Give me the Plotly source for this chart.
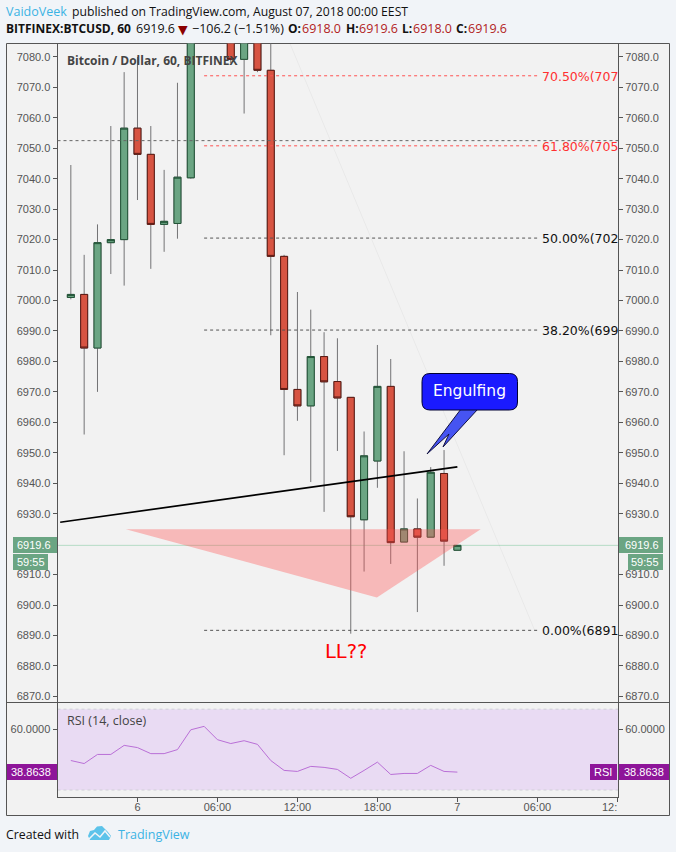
import plotly.graph_objects as go
import pandas as pd

W, H = 676, 852
hours = list(range(-5, 25))
opens = [7001.0,7002.0,6984.4,7019.0,7020.0,7056.6,7048.0,7025.0,7025.3,7040.3,7098.0,7105.0,7088.0,7079.2,7086.0,7075.6,7014.5,6970.8,6965.4,6981.6,6973.4,6968.2,6928.0,6947.3,6971.8,6920.7,6925.0,6922.3,6943.2,6918.0]
closes = [7002.0,6984.4,7019.0,7020.0,7056.6,7048.0,7025.0,7026.0,7040.5,7098.0,7105.0,7088.0,7079.2,7086.0,7075.6,7014.5,6970.8,6965.4,6981.6,6973.3,6968.0,6929.0,6949.0,6971.8,6920.5,6925.0,6922.3,6943.6,6921.0,6919.6]
highs = [7044.5,7015.0,7025.0,7057.3,7075.0,7080.0,7057.3,7042.9,7071.5,7105.0,7115.0,7110.0,7095.0,7092.0,7090.0,7088.0,7015.0,7002.8,6997.0,6989.6,6987.6,6968.2,6957.0,6985.4,6980.8,6950.5,6935.0,6945.3,6950.9,6919.6]
lows = [7000.4,6956.0,6970.0,7008.7,7004.9,7033.0,7010.4,7016.0,7020.3,7040.0,7090.0,7085.0,7078.0,7061.4,7075.0,6988.6,6949.2,6960.5,6940.4,6930.6,6950.6,6890.6,6911.0,6938.5,6913.5,6920.7,6897.7,6922.3,6912.9,6918.0]
rsi = [44.6,43.1,47.6,47.6,52.1,51.0,48.0,48.0,50.0,59.8,61.5,54.9,53.0,54.4,52.6,44.6,39.7,39.2,41.7,41.2,40.2,35.8,39.7,43.8,37.7,38.2,38.2,42.2,39.2,38.86]

main_ticks = list(range(6870, 7090, 10))
hidden_tick = 6920  # covered by the price tag in the reference
time_tick_hours = [0, 6, 12, 18, 24, 30, 36]
time_tick_text = ["6", "06:00", "12:00", "18:00", "7", "06:00", ""]

fib_levels = [("70.50%(707", 7073.8, "#ff5252"), ("61.80%(705", 7050.8, "#ff5252"),
              ("50.00%(702", 7020.5, "#555555"), ("38.20%(699", 6990.3, "#555555"),
              ("0.00%(6891", 6891.7, "#555555")]
fib_start_hour, fib_end_hour = 5, 30
fib_side_level = 7052.5
trend_hours, trend_vals = [-5.8, 24], [6927.2, 6945.4]
tri_hours, tri_vals = [-0.87, 25.75, 17.96, -0.87], [6924.9, 6924.9, 6902.5, 6924.9]
faint_hours, faint_vals = [11.44, 29.8], [7084.4, 6891.7]
last_price = 6919.6

BASE = pd.Timestamp("2018-08-06")
def T(h):
    return BASE + pd.Timedelta(hours=float(h))
def X(p): return p / W
def Y(p): return 1 - p / H

UP, DOWN, UPL, DOWNL, WICK = "#6ba583", "#d75442", "#225437", "#5b1a13", "#737375"
AX = "#555555"
times = [T(h) for h in hours]
hi_body = [max(a, b) for a, b in zip(opens, closes)]
lo_body = [min(a, b) for a, b in zip(opens, closes)]

fig = go.Figure()
fig.add_trace(go.Candlestick(x=times, open=opens, close=closes, high=highs, low=lows, xaxis="x", yaxis="y",
    increasing=dict(line=dict(color=WICK, width=1), fillcolor=WICK),
    decreasing=dict(line=dict(color=WICK, width=1), fillcolor=WICK), showlegend=False, hoverinfo="skip"))
fig.add_trace(go.Candlestick(x=times, open=opens, close=closes, high=hi_body, low=lo_body, xaxis="x", yaxis="y2",
    increasing=dict(line=dict(color=UPL, width=1), fillcolor=UP),
    decreasing=dict(line=dict(color=DOWNL, width=1), fillcolor=DOWN), showlegend=False, hoverinfo="skip"))
fig.add_trace(go.Scatter(x=[T(h) for h in tri_hours], y=tri_vals, xaxis="x", yaxis="y2", mode="lines",
    fill="toself", fillcolor="rgba(255,82,82,0.36)", line=dict(width=0), showlegend=False, hoverinfo="skip"))
fig.add_trace(go.Scatter(x=[T(h) for h in trend_hours], y=trend_vals, xaxis="x", yaxis="y2", mode="lines",
    line=dict(color="#000000", width=1.7), showlegend=False, hoverinfo="skip"))
fig.add_trace(go.Scatter(x=[T(h) for h in faint_hours], y=faint_vals, xaxis="x", yaxis="y2", mode="lines",
    line=dict(color="rgba(0,0,0,0.04)", width=1), showlegend=False, hoverinfo="skip"))
fig.add_trace(go.Scatter(x=times, y=rsi, xaxis="x2", yaxis="y3", mode="lines",
    line=dict(color="#b96fd6", width=1), showlegend=False, hoverinfo="skip"))
fig.add_trace(go.Scatter(x=times, y=rsi, xaxis="x2", yaxis="y4", mode="lines", opacity=0,
    line=dict(width=0), showlegend=False, hoverinfo="skip"))

shapes = []
shapes.append(dict(type="rect", xref="paper", yref="paper", x0=X(6.5), x1=X(669.5), y0=Y(43.5), y1=Y(815.5),
                   fillcolor="#f2f2f2", line=dict(color=AX, width=1), layer="below"))
shapes.append(dict(type="line", xref="paper", yref="paper", x0=X(6.5), x1=X(669.5), y0=Y(702.5), y1=Y(702.5),
                   line=dict(color=AX, width=1), layer="above"))
shapes.append(dict(type="line", xref="paper", yref="y", x0=X(57.5), x1=X(618), y0=last_price, y1=last_price,
                   line=dict(color="#b5dcc5", width=1), layer="below"))
shapes.append(dict(type="line", xref="paper", yref="y", x0=X(57.5), x1=X(618), y0=fib_side_level, y1=fib_side_level,
                   line=dict(color="#666666", width=1, dash="3px,3px"), layer="above"))
for name, lvl, col in fib_levels:
    shapes.append(dict(type="line", xref="x", yref="y", x0=T(fib_start_hour), x1=T(fib_end_hour), y0=lvl, y1=lvl,
                       line=dict(color=col, width=1, dash="3px,3px"), layer="above"))
# RSI band
shapes.append(dict(type="rect", xref="paper", yref="y3", x0=X(57.5), x1=X(618), y0=30, y1=70,
                   fillcolor="#e9dbf3", line=dict(width=0), layer="below"))
for v in (30, 70):
    shapes.append(dict(type="line", xref="paper", yref="y3", x0=X(57.5), x1=X(618), y0=v, y1=v,
                       line=dict(color="#cfcfd6", width=1, dash="3px,3px"), layer="below"))
def prect(x0, x1, y0, y1, col):
    shapes.append(dict(type="rect", xref="paper", yref="paper", x0=X(x0), x1=X(x1), y0=Y(y0), y1=Y(y1),
                       fillcolor=col, line=dict(width=0), layer="above"))
prect(13, 57, 537, 553, UP); prect(13, 48, 554, 570, UP)
prect(619, 663, 537, 553, UP); prect(628, 663, 554, 570, UP)
prect(7, 57, 764, 780, "#8e1599"); prect(619, 669, 764, 780, "#8e1599"); prect(590, 617, 764, 780, "#8e1599")

def P(points):
    return "M" + " L".join(f"{X(a):.5f},{Y(b):.5f}" for a, b in points) + " Z"
# callout tail and body
shapes.append(dict(type="path", xref="paper", yref="paper", layer="above",
    path=P([(461, 409), (427, 454), (449, 434), (443, 447), (478, 409)]),
    fillcolor="#4654f2", line=dict(color="#101040", width=1)))
l, r, t, b, q = 422, 517.5, 373.5, 410, 8
body = (f"M{X(l+q)},{Y(t)} L{X(r-q)},{Y(t)} Q{X(r)},{Y(t)} {X(r)},{Y(t+q)} L{X(r)},{Y(b-q)} Q{X(r)},{Y(b)} {X(r-q)},{Y(b)} "
        f"L{X(l+q)},{Y(b)} Q{X(l)},{Y(b)} {X(l)},{Y(b-q)} L{X(l)},{Y(t+q)} Q{X(l)},{Y(t)} {X(l+q)},{Y(t)} Z")
shapes.append(dict(type="path", xref="paper", yref="paper", layer="above", path=body,
                   fillcolor="#1a1aff", line=dict(color="#000033", width=1)))
# logo
shapes.append(dict(type="path", xref="paper", yref="paper", layer="above", fillcolor="#5cc3ea", line=dict(width=0),
    path=P([(88, 836), (90, 831), (94, 830), (97, 826.5), (102, 826), (105, 829), (108, 832), (111, 836), (109, 840), (90, 840)])))
shapes.append(dict(type="path", xref="paper", yref="paper", layer="above", line=dict(color="#f1f4f8", width=1.5),
    path=f"M{X(89)},{Y(839)} L{X(95)},{Y(833)} L{X(100)},{Y(837)} L{X(105)},{Y(831)} L{X(110)},{Y(837)}"))
fig.update_layout(shapes=shapes)

SANS = "Open Sans"
ARIAL = "Liberation Sans"
DJ = "DejaVu Sans"
anns = []
def txt(x, y, s, size=13, color="#111111", family=SANS, anchor="left", bold=False):
    if bold: s = f"<b>{s}</b>"
    anns.append(dict(xref="paper", yref="paper", x=X(x), y=Y(y), text=s, showarrow=False, xanchor=anchor, yanchor="middle",
                     font=dict(size=size, color=color, family=family), borderpad=0, borderwidth=0))
txt(6, 11, "VaidoVeek", 12.5, "#3bb3e4")
txt(72, 11, "published on TradingView.com, August 07, 2018 00:00 EEST", 12.2)
txt(6, 29, "BITFINEX:BTCUSD, 60", 12, bold=True)
txt(136, 29, "6919.6", 12.5)
txt(178, 29.5, "▼", 12.5, "#8b0000", DJ)
txt(192, 29, "−106.2 (−1.51%)", 12.5)
RED = "#b22222"
for xl, lab, xv, val in [(288, "O:", 302, "6918.0"), (345.5, "H:", 359, "6919.6"), (402, "L:", 413, "6918.0"), (456, "C:", 468, "6919.6")]:
    txt(xl, 29, lab, 12, bold=True)
    txt(xv, 29, val, 12.5, RED)
txt(67, 60.5, "Bitcoin / Dollar, 60, BITFINEX", 12, "#444444", bold=True)
txt(67, 720, "RSI (14, close)", 12.5, "#444444")
for name, lvl, col in fib_levels:
    anns.append(dict(xref="paper", yref="y", x=X(540), y=lvl, text=name, showarrow=False, xanchor="left", yanchor="middle",
                     yshift=-0.5, font=dict(size=12.5, family=DJ, color="#ff3030" if col != "#555555" else "#111111")))
txt(345.5, 651, "LL??", 19.5, "#ff0000", DJ, anchor="center")
txt(469.5, 391, "Engulfing", 15.5, "#ffffff", DJ, anchor="center")
for xc, s in [(33.5, "6919.6"), (30.5, "59:55"), (641.5, "6919.6"), (644.5, "59:55")]:
    txt(xc, 545 if s == "6919.6" else 562, s, 11, "#ffffff", ARIAL, anchor="center")
for xc in (31, 644):
    txt(xc, 772, "38.8638", 11, "#ffffff", ARIAL, anchor="center")
txt(603, 772, "RSI", 11, "#ffffff", ARIAL, anchor="center")
txt(617, 807, "12:", 11, AX, ARIAL, anchor="right")
txt(6, 834, "Created with", 12.3)
txt(118, 834, "TradingView", 12.5, "#3bb3e4")
fig.update_layout(annotations=anns)

xrange = [T(-6), T(36.05)]
yrange = [6868.0, 7084.4]
rsi_range = [26.8, 73.3]
dom_main = [Y(702.5), Y(43.5)]
dom_rsi = [Y(796.5), Y(702.5)]
dom_x = [X(57.5), X(618)]
tick_font = dict(size=11, color=AX, family=ARIAL)
yc = dict(range=yrange, tickvals=main_ticks, ticktext=["" if v == hidden_tick else f"{v:.1f}" for v in main_ticks],
          ticks="outside", ticklen=4, tickcolor=AX, tickfont=tick_font, showgrid=False, zeroline=False, showline=True,
          linecolor=AX, linewidth=1, fixedrange=True)
rc = dict(range=rsi_range, tickvals=[60, 38.86], ticktext=["60.0000", ""], ticks="outside", ticklen=4,
          tickcolor=AX, tickfont=tick_font, showgrid=False, zeroline=False, showline=True, linecolor=AX, linewidth=1)
fig.update_layout(
    width=W, height=H, autosize=False, margin=dict(l=0, r=0, t=0, b=0),
    paper_bgcolor="#f1f4f8", plot_bgcolor="rgba(0,0,0,0)", showlegend=False, boxgap=0.25, hovermode=False,
    xaxis=dict(domain=dom_x, range=xrange, type="date", anchor="y", showticklabels=False, ticks="", showgrid=False,
               zeroline=False, showline=False, rangeslider=dict(visible=False)),
    xaxis2=dict(domain=dom_x, range=xrange, type="date", anchor="y3", tickmode="array", ticklabelstandoff=-4,
                tickvals=[T(h) for h in time_tick_hours], ticktext=time_tick_text, ticks="outside", ticklen=4, tickcolor=AX,
                tickfont=tick_font, showgrid=False, zeroline=False, showline=True, linecolor=AX, linewidth=1),
    yaxis=dict(domain=dom_main, anchor="x", side="left", **yc),
    yaxis2=dict(anchor="x", overlaying="y", side="right", **yc),
    yaxis3=dict(domain=dom_rsi, anchor="x2", side="left", **rc),
    yaxis4=dict(anchor="x2", overlaying="y3", side="right", **rc),
)
fig.write_html("out.html", post_script="document.body.style.margin='0';", config=dict(displayModeBar=False))
